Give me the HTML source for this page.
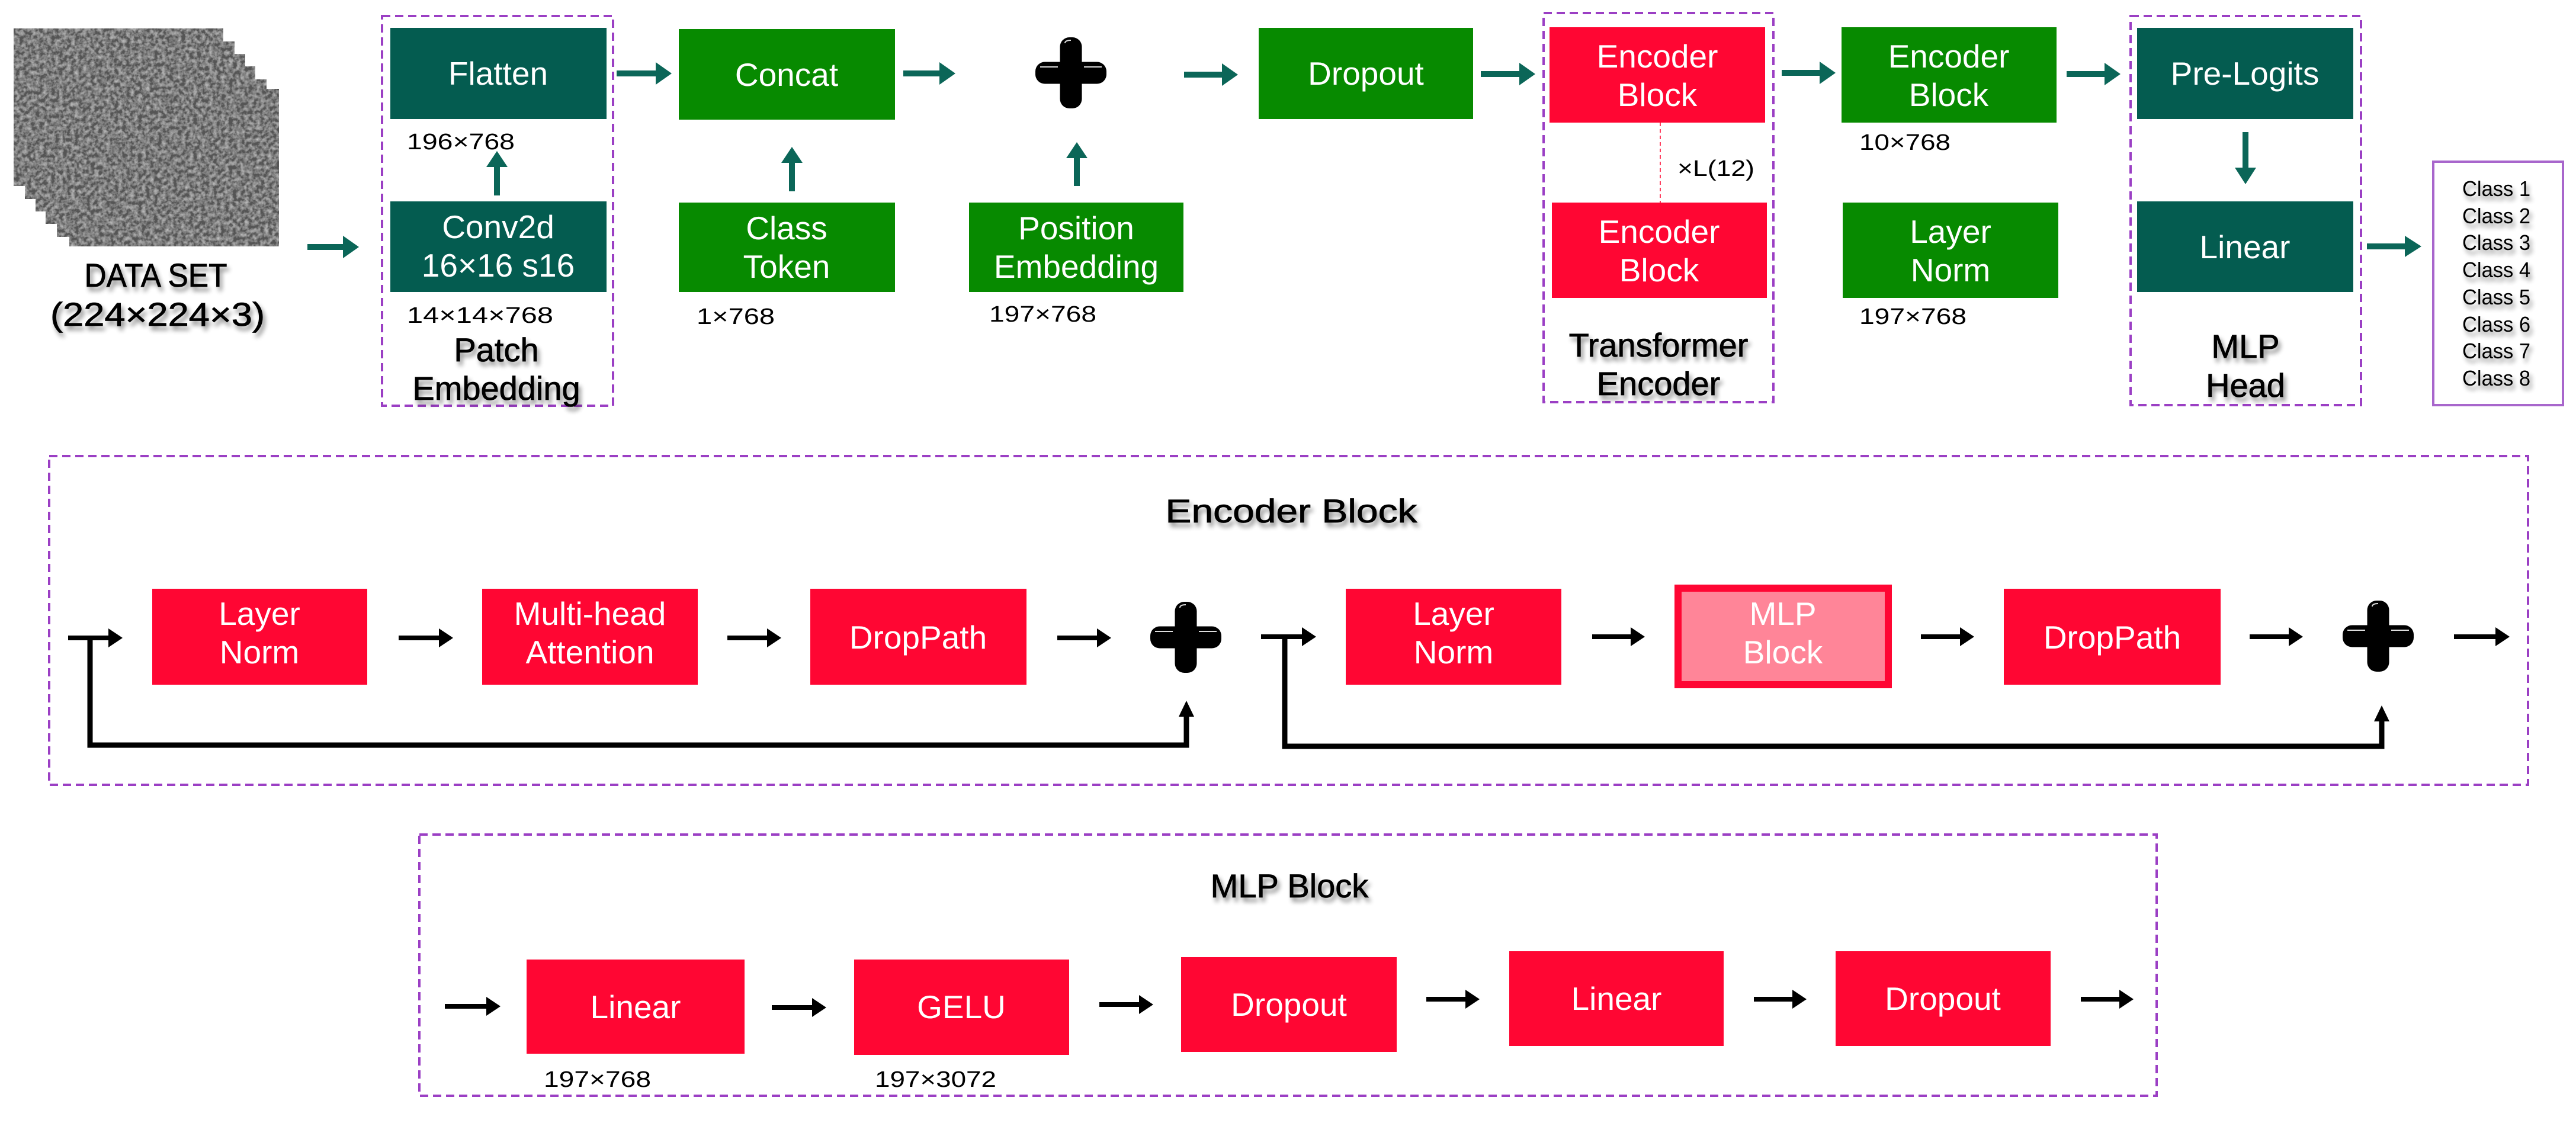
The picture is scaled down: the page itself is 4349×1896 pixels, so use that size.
<!DOCTYPE html>
<html><head><meta charset="utf-8"><style>
html,body{margin:0;padding:0;background:#fff;}
svg{display:block;}
text{font-family:"Liberation Sans",sans-serif;}
.w{fill:#fff;font-size:55px;text-anchor:middle;}
.lb{fill:#000;font-size:38px;}
.t{fill:#000;font-size:56px;text-anchor:middle;stroke:#000;stroke-width:0.8px;filter:url(#sh);}
.cl{fill:#000;font-size:36px;filter:url(#sh);}
</style></head><body>
<svg width="4349" height="1896" viewBox="0 0 4349 1896" xmlns="http://www.w3.org/2000/svg">
<defs>
<filter id="sh" x="-10%" y="-30%" width="130%" height="180%">
<feGaussianBlur in="SourceAlpha" stdDeviation="4"/><feOffset dx="4" dy="7" result="b"/>
<feComponentTransfer in="b" result="c"><feFuncA type="linear" slope="0.45"/></feComponentTransfer>
<feMerge><feMergeNode in="c"/><feMergeNode in="SourceGraphic"/></feMerge>
</filter>
<filter id="noise" x="0" y="0" width="100%" height="100%">
<feTurbulence type="fractalNoise" baseFrequency="0.15" numOctaves="3" seed="4"/>
<feColorMatrix type="matrix" values="0 0 0 0 0.55  0 0 0 0 0.55  0 0 0 0 0.55  1.6 0 0 0 -0.55"/>
<feComposite in2="SourceGraphic" operator="in" result="n"/>
<feMerge><feMergeNode in="SourceGraphic"/><feMergeNode in="n"/></feMerge>
</filter>
<g id="plus">
<rect x="-18.5" y="-60" width="37" height="120" rx="16" fill="#000"/>
<rect x="-60" y="-18.5" width="120" height="37" rx="16" fill="#000"/>
<path d="M-10,-50 Q-10,-55 0,-55 M-52,-10 L-22,-10 M22,-10 L52,-10" stroke="#ddd" stroke-width="2" fill="none"/>
</g>
</defs>

<g filter="url(#noise)">
<rect x="23" y="48" width="354" height="266" fill="#555"/>
<rect x="42" y="70" width="354" height="266" fill="#555"/>
<rect x="60" y="91" width="354" height="266" fill="#555"/>
<rect x="77" y="112" width="354" height="266" fill="#555"/>
<rect x="96" y="134" width="354" height="266" fill="#555"/>
<rect x="117" y="150" width="354" height="266" fill="#555"/>
</g>
<text class="t" x="263" y="484" font-size="52" textLength="241" lengthAdjust="spacingAndGlyphs">DATA SET</text>
<text class="t" x="266" y="550" font-size="52" textLength="362" lengthAdjust="spacingAndGlyphs">(224×224×3)</text>

<g fill="none" stroke="#9b3fc4" stroke-width="4" stroke-dasharray="14 8">
<rect x="645" y="27" width="390" height="658"/>
<rect x="2606" y="22" width="388" height="657"/>
<rect x="3597" y="27" width="389" height="657"/>
<rect x="83" y="770" width="4185" height="555"/>
<rect x="708" y="1409" width="2933" height="441"/>
</g>
<rect x="4108" y="273" width="219" height="411" fill="none" stroke="#a866cc" stroke-width="4"/>

<rect x="659" y="47" width="365" height="154" fill="#045c50"/>
<text class="w" x="841" y="143">Flatten</text>
<rect x="659" y="340" width="365" height="153" fill="#045c50"/>
<text class="w" x="841" y="402">Conv2d</text>
<text class="w" x="841" y="467">16×16 s16</text>
<rect x="1146" y="49" width="365" height="153" fill="#078a00"/>
<text class="w" x="1328" y="145">Concat</text>
<rect x="1146" y="342" width="365" height="151" fill="#078a00"/>
<text class="w" x="1328" y="404">Class</text>
<text class="w" x="1328" y="469">Token</text>
<rect x="1636" y="342" width="362" height="151" fill="#078a00"/>
<text class="w" x="1817" y="404">Position</text>
<text class="w" x="1817" y="469">Embedding</text>
<rect x="2125" y="47" width="362" height="154" fill="#078a00"/>
<text class="w" x="2306" y="143">Dropout</text>
<rect x="2616" y="46" width="364" height="161" fill="#ff0633"/>
<text class="w" x="2798" y="114">Encoder</text>
<text class="w" x="2798" y="179">Block</text>
<line x1="2803" y1="207" x2="2803" y2="342" stroke="#ff4060" stroke-width="2" stroke-dasharray="6 5"/>
<rect x="2620" y="342" width="363" height="161" fill="#ff0633"/>
<text class="w" x="2801" y="410">Encoder</text>
<text class="w" x="2801" y="475">Block</text>
<rect x="3109" y="46" width="363" height="161" fill="#078a00"/>
<text class="w" x="3290" y="114">Encoder</text>
<text class="w" x="3290" y="179">Block</text>
<rect x="3111" y="342" width="364" height="161" fill="#078a00"/>
<text class="w" x="3293" y="410">Layer</text>
<text class="w" x="3293" y="475">Norm</text>
<rect x="3608" y="47" width="365" height="154" fill="#045c50"/>
<text class="w" x="3790" y="143">Pre-Logits</text>
<rect x="3608" y="340" width="365" height="153" fill="#045c50"/>
<text class="w" x="3790" y="436">Linear</text>

<text class="lb" x="687" y="252" textLength="182" lengthAdjust="spacingAndGlyphs">196×768</text>
<text class="lb" x="687" y="545" textLength="247" lengthAdjust="spacingAndGlyphs">14×14×768</text>
<text class="lb" x="1176" y="547" textLength="132" lengthAdjust="spacingAndGlyphs">1×768</text>
<text class="lb" x="1670" y="543" textLength="181" lengthAdjust="spacingAndGlyphs">197×768</text>
<text class="lb" x="2832" y="297" font-size="44" textLength="130" lengthAdjust="spacingAndGlyphs">×L(12)</text>
<text class="lb" x="3139" y="253" textLength="154" lengthAdjust="spacingAndGlyphs">10×768</text>
<text class="lb" x="3139" y="547" textLength="181" lengthAdjust="spacingAndGlyphs">197×768</text>

<text class="t" x="838" y="610">Patch</text>
<text class="t" x="838" y="675">Embedding</text>
<text class="t" x="2800" y="602">Transformer</text>
<text class="t" x="2800" y="667">Encoder</text>
<text class="t" x="3791" y="604">MLP</text>
<text class="t" x="3791" y="670">Head</text>

<g>
<text class="cl" x="4157" y="331" textLength="115" lengthAdjust="spacingAndGlyphs">Class 1</text>
<text class="cl" x="4157" y="377" textLength="115" lengthAdjust="spacingAndGlyphs">Class 2</text>
<text class="cl" x="4157" y="422" textLength="115" lengthAdjust="spacingAndGlyphs">Class 3</text>
<text class="cl" x="4157" y="468" textLength="115" lengthAdjust="spacingAndGlyphs">Class 4</text>
<text class="cl" x="4157" y="514" textLength="115" lengthAdjust="spacingAndGlyphs">Class 5</text>
<text class="cl" x="4157" y="560" textLength="115" lengthAdjust="spacingAndGlyphs">Class 6</text>
<text class="cl" x="4157" y="605" textLength="115" lengthAdjust="spacingAndGlyphs">Class 7</text>
<text class="cl" x="4157" y="651" textLength="115" lengthAdjust="spacingAndGlyphs">Class 8</text>
</g>

<g fill="#0b6658">
<path d="M519,412 h60 v-14 l27,19 l-27,19 v-14 h-60z"/>
<path d="M1041,119 h66 v-14 l27,19 l-27,19 v-14 h-66z"/>
<path d="M1525,119 h61 v-14 l27,19 l-27,19 v-14 h-61z"/>
<path d="M1999,121 h64 v-14 l27,19 l-27,19 v-14 h-64z"/>
<path d="M2500,120 h65 v-14 l27,19 l-27,19 v-14 h-65z"/>
<path d="M3008,118 h64 v-14 l27,19 l-27,19 v-14 h-64z"/>
<path d="M3489,120 h64 v-14 l27,19 l-27,19 v-14 h-64z"/>
<path d="M3996,411 h64 v-13 l28,18 l-28,18 v-13 h-64z"/>
<path d="M834,330 v-48 h-13 l18,-27 l18,27 h-13 v48z"/>
<path d="M1332,323 v-48 h-13 l18,-27 l18,27 h-13 v48z"/>
<path d="M1813,314 v-47 h-13 l18,-27 l18,27 h-13 v47z"/>
<path d="M3786,223 v60 h-13 l18,28 l18,-28 h-13 v-60z"/>
</g>
<use href="#plus" x="1808" y="123"/>

<text class="t" x="2180" y="882" font-size="66" textLength="425" lengthAdjust="spacingAndGlyphs">Encoder Block</text>
<rect x="257" y="994" width="363" height="162" fill="#ff0633"/>
<text class="w" x="438" y="1055">Layer</text>
<text class="w" x="438" y="1120">Norm</text>
<rect x="814" y="994" width="364" height="162" fill="#ff0633"/>
<text class="w" x="996" y="1055">Multi-head</text>
<text class="w" x="996" y="1120">Attention</text>
<rect x="1368" y="994" width="365" height="162" fill="#ff0633"/>
<text class="w" x="1550" y="1095">DropPath</text>
<rect x="2272" y="994" width="364" height="162" fill="#ff0633"/>
<text class="w" x="2454" y="1055">Layer</text>
<text class="w" x="2454" y="1120">Norm</text>
<rect x="2833" y="993" width="355" height="163" fill="#ff8598" stroke="#ff0633" stroke-width="12"/>
<text class="w" x="3010" y="1055">MLP</text>
<text class="w" x="3010" y="1120">Block</text>
<rect x="3383" y="994" width="366" height="162" fill="#ff0633"/>
<text class="w" x="3566" y="1095">DropPath</text>

<g fill="#000">
<path d="M115,1073 h68 v-12 l24,16 l-24,16 v-12 h-68z"/>
<path d="M673,1073 h68 v-12 l24,16 l-24,16 v-12 h-68z"/>
<path d="M1228,1073 h67 v-12 l24,16 l-24,16 v-12 h-67z"/>
<path d="M1785,1073 h67 v-12 l24,16 l-24,16 v-12 h-67z"/>
<path d="M2129,1071 h69 v-12 l24,16 l-24,16 v-12 h-69z"/>
<path d="M2688,1071 h65 v-12 l24,16 l-24,16 v-12 h-65z"/>
<path d="M3243,1071 h66 v-12 l24,16 l-24,16 v-12 h-66z"/>
<path d="M3798,1071 h66 v-12 l24,16 l-24,16 v-12 h-66z"/>
<path d="M4143,1071 h70 v-12 l24,16 l-24,16 v-12 h-70z"/>
</g>
<g fill="none" stroke="#000" stroke-width="9">
<path d="M152,1077 V1258 H2003 V1205"/>
<path d="M2169,1075 V1260 H4021 V1213"/>
</g>
<path d="M1990,1210 l13,-27 l13,27z" fill="#000"/>
<path d="M4008,1218 l13,-27 l13,27z" fill="#000"/>
<use href="#plus" x="2002" y="1076"/>
<use href="#plus" x="4015" y="1074"/>

<text class="t" x="2177" y="1515" font-size="66">MLP Block</text>
<rect x="889" y="1620" width="368" height="159" fill="#ff0633"/>
<text class="w" x="1073" y="1719">Linear</text>
<rect x="1442" y="1620" width="363" height="161" fill="#ff0633"/>
<text class="w" x="1623" y="1719">GELU</text>
<rect x="1994" y="1616" width="364" height="160" fill="#ff0633"/>
<text class="w" x="2176" y="1715">Dropout</text>
<rect x="2548" y="1606" width="362" height="160" fill="#ff0633"/>
<text class="w" x="2729" y="1705">Linear</text>
<rect x="3099" y="1606" width="363" height="160" fill="#ff0633"/>
<text class="w" x="3280" y="1705">Dropout</text>
<g fill="#000">
<path d="M751,1695 h70 v-12 l24,16 l-24,16 v-12 h-70z"/>
<path d="M1303,1697 h68 v-12 l24,16 l-24,16 v-12 h-68z"/>
<path d="M1856,1692 h67 v-12 l24,16 l-24,16 v-12 h-67z"/>
<path d="M2408,1683 h66 v-12 l24,16 l-24,16 v-12 h-66z"/>
<path d="M2961,1683 h65 v-12 l24,16 l-24,16 v-12 h-65z"/>
<path d="M3513,1683 h65 v-12 l24,16 l-24,16 v-12 h-65z"/>
</g>
<text class="lb" x="918" y="1835" textLength="181" lengthAdjust="spacingAndGlyphs">197×768</text>
<text class="lb" x="1477" y="1835" textLength="205" lengthAdjust="spacingAndGlyphs">197×3072</text>
</svg>
</body></html>
